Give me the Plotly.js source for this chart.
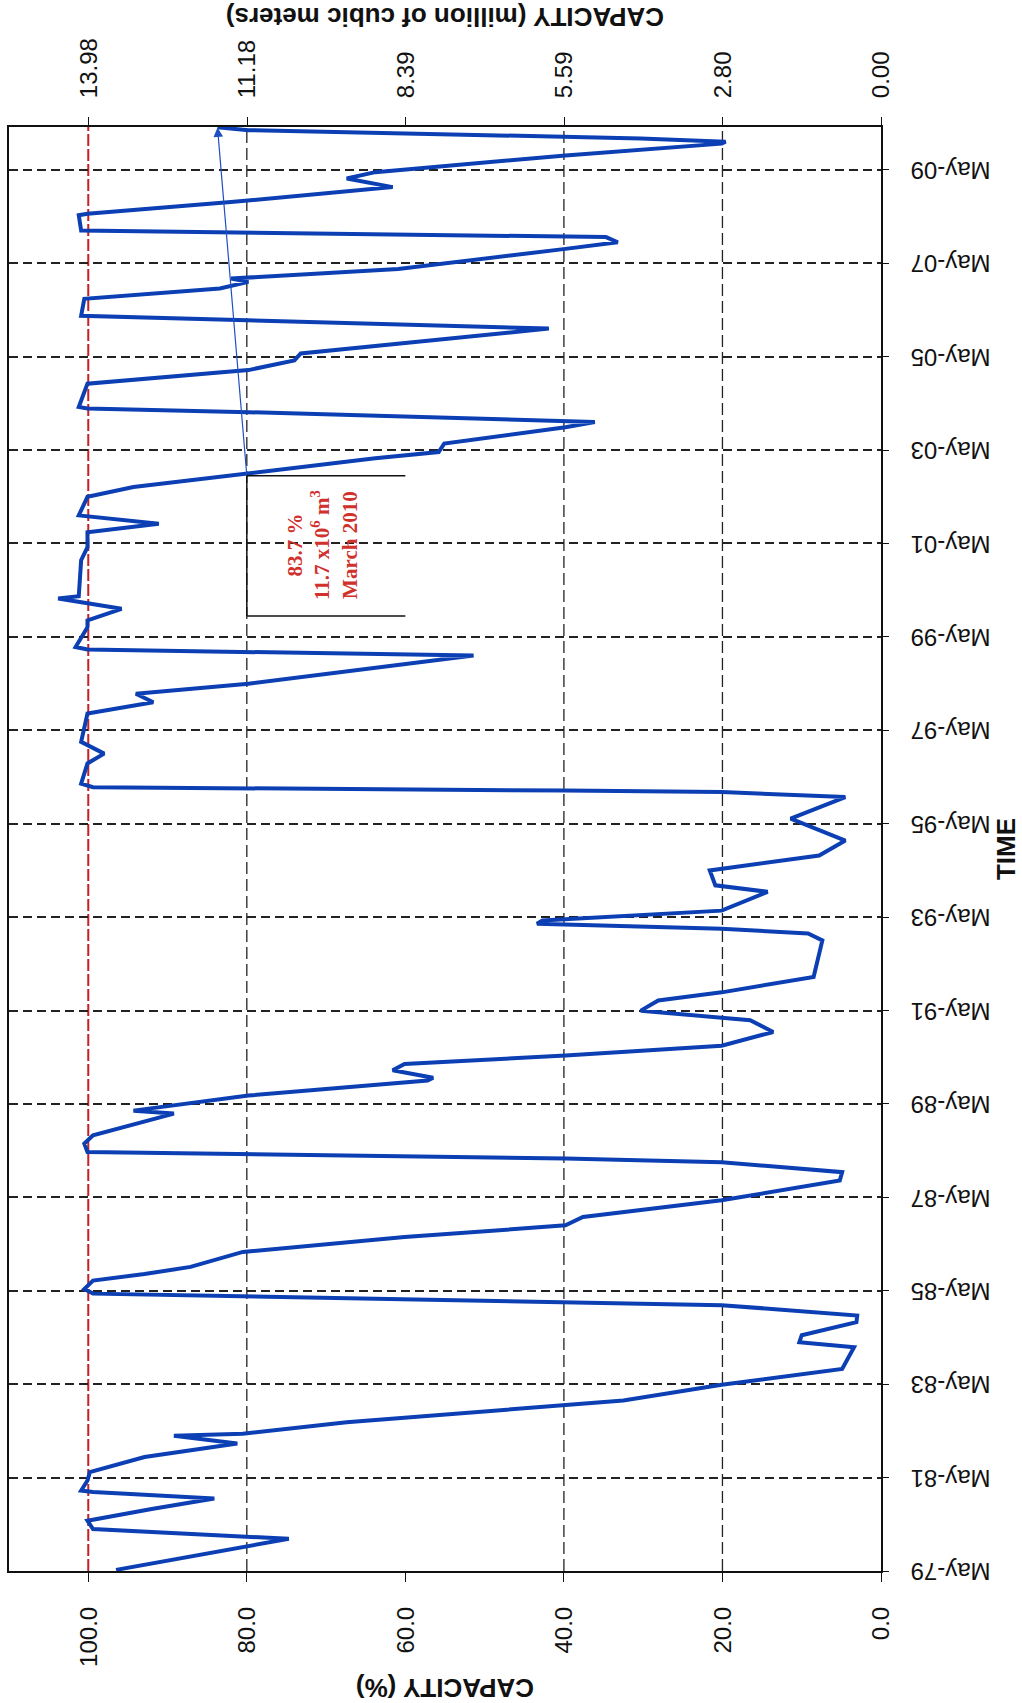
<!DOCTYPE html>
<html>
<head>
<meta charset="utf-8">
<script src="https://cdn.plot.ly/plotly-3.0.1.min.js"></script>
<style>
  html, body { margin: 0; padding: 0; background: #fff; width: 1022px; height: 1703px; overflow: hidden; }
  #chart { position: absolute; left: 0; top: 0; width: 1703px; height: 1022px;
           transform-origin: 0 0; transform: translate(0px, 1703px) rotate(-90deg); }
</style>
</head>
<body>
<div id="chart"></div>
<script>
// Reservoir stored volume, % of capacity
const dates = [
  "1979-05-10","1980-01-08","1980-03-24","1980-05-28","1980-08-28","1980-11-18","1981-01-08","1981-01-19",
  "1981-04-08","1981-06-13","1981-10-08","1982-01-22","1982-03-24","1982-04-08","1982-07-08","1982-11-14",
  "1982-12-24","1983-04-26","1983-08-28","1984-02-14","1984-03-24","1984-05-18","1984-08-28","1984-10-19",
  "1985-01-08","1985-04-08","1985-05-14","1985-07-19","1985-09-09","1985-11-03","1986-02-28","1986-06-24",
  "1986-09-24","1986-11-28","1987-04-08","1987-09-09","1987-11-14","1988-01-30","1988-02-28","1988-04-19",
  "1988-06-24","1988-08-28","1989-02-14","1989-03-09","1989-07-05","1989-10-30","1989-11-21","1990-01-19",
  "1990-03-09","1990-05-14","1990-07-30","1990-11-14","1991-02-14","1991-04-30","1991-07-19","1991-09-20",
  "1992-01-19","1992-10-30","1992-12-24","1993-01-30","1993-03-09","1993-04-04","1993-06-20","1993-11-14",
  "1994-01-04","1994-04-30","1994-08-25","1994-12-20","1995-06-09","1995-11-25","1996-01-04","1996-01-15",
  "1996-02-10","1996-03-09","1996-08-14","1996-10-30","1997-01-30","1997-09-09","1997-12-06","1998-02-10",
  "1998-04-30","1998-12-06","1999-01-22","1999-02-10","1999-07-15","1999-09-06","1999-12-06","2000-02-25",
  "2000-03-13","2000-12-20","2001-04-01","2001-07-26","2001-10-01","2001-12-06","2002-04-30","2002-07-15",
  "2002-10-30","2003-02-25","2003-04-15","2003-06-20","2003-10-26","2003-12-06","2004-02-21","2004-03-20",
  "2004-04-01","2004-10-01","2005-01-15","2005-04-01","2005-05-25","2005-12-06","2006-03-16","2006-07-26",
  "2006-10-15","2006-12-06","2007-01-01","2007-03-16","2007-08-21","2007-10-12","2007-11-21","2007-12-27",
  "2008-01-12","2008-05-10","2008-05-21","2008-08-21","2008-12-16","2009-02-21","2009-04-12","2009-08-21",
  "2009-11-21","2009-12-06","2010-01-01","2010-03-06","2010-03-28"
];
const capacityPct = [
  96.5, 74.7, 99.4, 100.1, 92.0, 84.1, 99.4, 100.9,
  100.1, 99.8, 92.9, 81.2, 89.2, 80.5, 67.4, 39.8,
  32.5, 20.1, 4.9, 3.4, 10.3, 10.0, 3.1, 3.0,
  20.1, 99.4, 100.5, 99.4, 92.9, 87.1, 80.5, 60.1,
  39.8, 37.6, 20.1, 5.2, 4.9, 20.1, 39.8, 100.1,
  100.5, 99.4, 89.2, 94.3, 79.8, 57.2, 56.5, 61.6,
  60.1, 39.8, 20.1, 13.6, 16.5, 30.3, 28.1, 20.1,
  8.5, 7.4, 9.2, 20.1, 43.4, 42.7, 20.1, 14.3,
  20.9, 21.6, 7.8, 4.5, 11.4, 4.5, 20.1, 39.8,
  99.4, 100.9, 100.1, 98.0, 100.9, 100.1, 91.8, 94.0,
  79.8, 51.4, 100.1, 101.6, 100.1, 100.1, 95.8, 103.8,
  101.2, 100.9, 100.1, 100.1, 91.1, 101.2, 100.1, 94.3,
  79.8, 63.8, 55.8, 55.1, 39.8, 36.1, 79.8, 100.1,
  101.2, 100.1, 79.8, 74.0, 73.2, 41.9, 100.9, 100.5,
  83.4, 79.8, 82.0, 60.9, 39.8, 33.2, 34.7, 79.8,
  100.9, 101.2, 100.1, 82.0, 61.6, 67.4, 63.8, 39.8,
  20.1, 19.6, 30.3, 79.8, 83.7
];

const pctTicks = [0, 20, 40, 60, 80, 100];
const pctTickText = ["0.0", "20.0", "40.0", "60.0", "80.0", "100.0"];
const volTicks = [0, 2.80, 5.59, 8.39, 11.18, 13.98];
const volTickText = ["0.00", "2.80", "5.59", "8.39", "11.18", "13.98"];
const fullVolume = 13.98;
const levelLines = [20, 40, 80];
const fullLevel = 100;

const noteText = "83.7 %<br>11.7 x10<sup>6</sup> m<sup>3</sup><br>March 2010";
const noteX = "2001-04-15", noteY = 70.5;
const boxStart = "1999-10-12", boxEnd = "2002-10-12", boxLow = 60, boxHigh = 80;
const arrowTail = {x: "2002-10-12", y: 80};
const arrowHead = {x: "2010-03-28", y: 83.7};

const FONT = "Arial, 'Liberation Sans', sans-serif";

const traces = [
  { x: dates, y: capacityPct, type: "scatter", mode: "lines",
    line: { color: "#0b3fb3", width: 4 }, hoverinfo: "skip", showlegend: false },
  { x: [null], y: [null], yaxis: "y2", type: "scatter", mode: "lines", showlegend: false, hoverinfo: "skip" }
];

const shapes = [];
levelLines.forEach(v => shapes.push({
  type: "line", xref: "paper", x0: 0, x1: 1, yref: "y", y0: v, y1: v,
  line: { color: "#222", width: 1.3, dash: "12px,5px" }, layer: "below"
}));
shapes.push({ type: "line", xref: "paper", x0: 0, x1: 1, yref: "y", y0: fullLevel, y1: fullLevel,
  line: { color: "#c42026", width: 2, dash: "12px,3px" }, layer: "below" });
// bracket around the note
shapes.push({ type: "line", xref: "x", yref: "y", x0: boxStart, x1: boxEnd, y0: boxHigh, y1: boxHigh,
  line: { color: "#111", width: 1.5 } });
shapes.push({ type: "line", xref: "x", yref: "y", x0: boxStart, x1: boxStart, y0: boxLow, y1: boxHigh,
  line: { color: "#111", width: 1.5 } });
shapes.push({ type: "line", xref: "x", yref: "y", x0: boxEnd, x1: boxEnd, y0: boxLow, y1: boxHigh,
  line: { color: "#111", width: 1.5 } });

const layout = {
  width: 1703, height: 1022,
  margin: { l: 132, r: 127, t: 9, b: 141 },
  paper_bgcolor: "#fff", plot_bgcolor: "#fff",
  font: { family: FONT, color: "#111" },
  showlegend: false,
  xaxis: {
    type: "date", range: ["1979-05-01", "2010-03-31"],
    tick0: "1979-05-01", dtick: "M24", tickformat: "%b-%y", tickangle: -90,
    ticks: "outside", ticklen: 6, tickcolor: "#111", ticklabelstandoff: 12,
    tickfont: { size: 24, family: FONT, color: "#111" },
    showgrid: true, gridcolor: "#222", gridwidth: 2, griddash: "9px,5px",
    showline: true, mirror: true, linecolor: "#111", linewidth: 2, zeroline: false,
    title: { text: "TIME", standoff: 6, font: { size: 26, family: FONT, weight: "bold", color: "#111" } }
  },
  yaxis: {
    range: [0, 110], tickvals: pctTicks, ticktext: pctTickText,
    ticks: "outside", ticklen: 9, tickcolor: "#111", ticklabelstandoff: 20,
    tickfont: { size: 24, family: FONT, color: "#111" },
    showgrid: false, zeroline: false,
    showline: true, mirror: true, linecolor: "#111", linewidth: 2,
    title: { text: "CAPACITY (%)", standoff: 12, font: { size: 26, family: FONT, weight: "bold", color: "#111" } }
  },
  yaxis2: {
    overlaying: "y", side: "right", range: [0, fullVolume * 1.1],
    tickvals: volTicks, ticktext: volTickText,
    ticks: "outside", ticklen: 9, tickcolor: "#111", ticklabelstandoff: 14,
    tickfont: { size: 24, family: FONT, color: "#111" },
    showgrid: false, zeroline: false, showline: false,
    title: { text: "CAPACITY (million of cubic meters)", standoff: 12, font: { size: 26, family: FONT, weight: "bold", color: "#111" } }
  },
  shapes: shapes,
  annotations: [
    { x: noteX, y: noteY, xref: "x", yref: "y", text: noteText, showarrow: false,
      font: { size: 21, family: "'Liberation Serif', 'Times New Roman', serif", weight: "bold", color: "#d0312d" },
      align: "center" },
    { x: arrowHead.x, y: arrowHead.y, xref: "x", yref: "y",
      ax: arrowTail.x, ay: arrowTail.y, axref: "x", ayref: "y",
      text: "", showarrow: true, arrowhead: 2, arrowsize: 1.6, arrowwidth: 1.2, arrowcolor: "#1f4fc0" }
  ]
};

Plotly.newPlot("chart", traces, layout, { displayModeBar: false, staticPlot: true });
</script>
</body>
</html>
